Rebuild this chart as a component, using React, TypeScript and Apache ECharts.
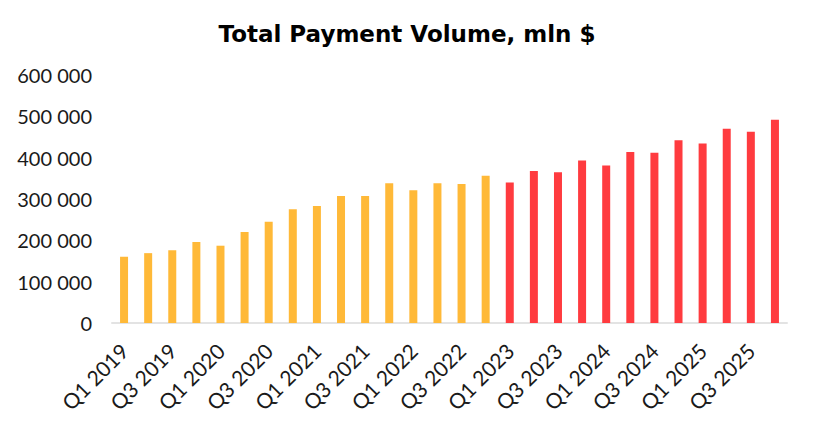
import React, { useEffect, useRef } from "react";
import * as echarts from "echarts";

const categories = [
  "Q1 2019", "Q2 2019", "Q3 2019", "Q4 2019",
  "Q1 2020", "Q2 2020", "Q3 2020", "Q4 2020",
  "Q1 2021", "Q2 2021", "Q3 2021", "Q4 2021",
  "Q1 2022", "Q2 2022", "Q3 2022", "Q4 2022",
  "Q1 2023", "Q2 2023", "Q3 2023", "Q4 2023",
  "Q1 2024", "Q2 2024", "Q3 2024", "Q4 2024",
  "Q1 2025", "Q2 2025", "Q3 2025", "Q4 2025",
];

const values = [
  160000, 169000, 176000, 196000,
  187000, 220000, 245000, 275000,
  283000, 307000, 307000, 338000,
  321000, 338000, 336000, 356000,
  340000, 368000, 365000, 393000,
  381000, 414000, 412000, 442000,
  434000, 470000, 463000, 492000,
];

const forecastFromYear = 2023;
const colorActual = "#FFB938";
const colorLater = "#FF3B3F";

const fmt = (v: number) => String(v).replace(/\B(?=(\d{3})+(?!\d))/g, " ");

export default function App() {
  const ref = useRef<HTMLDivElement>(null);
  useEffect(() => {
    if (!ref.current) return;
    const chart = echarts.init(ref.current, null, { renderer: "svg" });
    const font = "Lato";
    chart.setOption({
      animation: false,
      backgroundColor: "#ffffff",
      title: {
        text: "Total Payment Volume, mln $",
        left: "center",
        top: 17,
        textStyle: {
          fontFamily: "DejaVu Sans",
          fontWeight: "bold",
          fontSize: 23,
          color: "#000000",
        },
      },
      grid: { left: 112, right: 27, top: 75, bottom: 109, containLabel: false },
      xAxis: {
        type: "category",
        data: categories,
        axisLine: { show: true, lineStyle: { color: "#e3e3e3", width: 2 } },
        axisTick: { show: false },
        axisLabel: {
          interval: 1,
          rotate: 45,
          fontFamily: font,
          fontSize: 21,
          color: "#1a1a1a",
          margin: 24,
        },
      },
      yAxis: {
        type: "value",
        min: 0,
        max: 600000,
        interval: 100000,
        splitLine: { show: false },
        axisLine: { show: false },
        axisTick: { show: false },
        axisLabel: {
          formatter: (v: number) => fmt(v),
          fontFamily: font,
          fontSize: 20,
          color: "#1a1a1a",
          margin: 20,
        },
      },
      series: [
        {
          type: "bar",
          barWidth: 8,
          data: values.map((v, i) => ({
            value: v,
            itemStyle: {
              color:
                parseInt(categories[i].split(" ")[1], 10) >= forecastFromYear
                  ? colorLater
                  : colorActual,
            },
          })),
        },
      ],
    });
    return () => chart.dispose();
  }, []);
  return <div ref={ref} style={{ width: 814, height: 432, margin: -8 }} />;
}
